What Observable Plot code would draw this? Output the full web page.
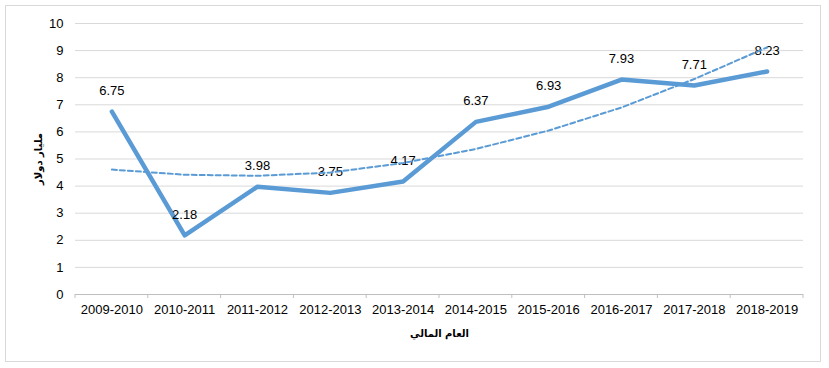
<!DOCTYPE html>
<html>
<head>
<meta charset="utf-8">
<script src="https://cdn.jsdelivr.net/npm/d3@7"></script>
<script src="https://cdn.jsdelivr.net/npm/@observablehq/plot@0.6"></script>
<style>
  html, body { margin: 0; padding: 0; background: #fff; }
  #wrap { position: relative; width: 829px; height: 368px; }
  #border { position: absolute; left: 5px; top: 5px; width: 816px; height: 357px; border: 1px solid #d9d9d9; box-sizing: border-box; pointer-events: none; }
  #chart { position: absolute; left: 0; top: 0; }
</style>
</head>
<body>
<div id="wrap"><div id="border"></div><div id="chart"></div></div>
<script>
const categories = ["2009-2010","2010-2011","2011-2012","2012-2013","2013-2014","2014-2015","2015-2016","2016-2017","2017-2018","2018-2019"];
const values = [6.75, 2.18, 3.98, 3.75, 4.17, 6.37, 6.93, 7.93, 7.71, 8.23];
const trend = [4.61, 4.42, 4.38, 4.5, 4.85, 5.37, 6.05, 6.9, 7.95, 9.12];
const yTicks = [0,1,2,3,4,5,6,7,8,9,10];
const yLabel = "مليار دولار";
const xLabel = "العام المالي";

const data = categories.map((c, i) => ({year: c, value: values[i], trend: trend[i]}));
const blue = "#5b9bd5";

const plot = Plot.plot({
  width: 829, height: 368,
  marginLeft: 75, marginRight: 26, marginTop: 23, marginBottom: 74,
  style: {fontFamily: "'Liberation Sans', Arial, sans-serif", fontSize: "13px", background: "transparent", color: "#000"},
  x: {type: "band", domain: categories, padding: 0, round: false, label: null},
  y: {domain: [0, 10], label: null},
  marks: [
    Plot.gridY(yTicks, {stroke: "#d9d9d9", strokeOpacity: 1}),
    Plot.ruleY([0], {stroke: "#bfbfbf"}),
    Plot.axisX({tickSize: 0, tickPadding: 10, fontSize: 13, fill: "#000"}),
    Plot.axisY(yTicks, {tickSize: 0, tickPadding: 12, fontSize: 13, fill: "#000", label: null}),
    Plot.line(data, {x: "year", y: "value", stroke: blue, strokeWidth: 4.5, strokeLinejoin: "round"}),
    Plot.text(data, {x: "year", y: "value", text: d => d.value.toFixed(2), dy: -21, fill: "#000", fontSize: 13}),
    Plot.line(data, {x: "year", y: "trend", stroke: blue, strokeWidth: 2, strokeDasharray: "5,3"}),
    Plot.text([yLabel], {frameAnchor: "left", textAnchor: "middle", lineAnchor: "middle", dx: -37, rotate: -90, fontWeight: "bold", fontSize: 10, fontFamily: "'DejaVu Sans', sans-serif", fill: "#000"}),
    Plot.text([xLabel], {frameAnchor: "bottom", textAnchor: "middle", lineAnchor: "middle", dy: 39, fontWeight: "bold", fontSize: 10, fontFamily: "'DejaVu Sans', sans-serif", fill: "#000"})
  ]
});

// small tick marks at band boundaries, positioned from the plot's own x scale
const xs = plot.scale("x");
const ys = plot.scale("y");
const y0 = ys.apply(0);
const bounds = categories.map(c => xs.apply(c)).concat([xs.apply(categories[categories.length - 1]) + xs.bandwidth]);
const svg = d3.select(plot);
svg.append("g").selectAll("line").data(bounds).join("line")
  .attr("x1", d => d).attr("x2", d => d)
  .attr("y1", y0).attr("y2", y0 + 4)
  .attr("stroke", "#bfbfbf");

document.getElementById("chart").appendChild(plot);
</script>
</body>
</html>
